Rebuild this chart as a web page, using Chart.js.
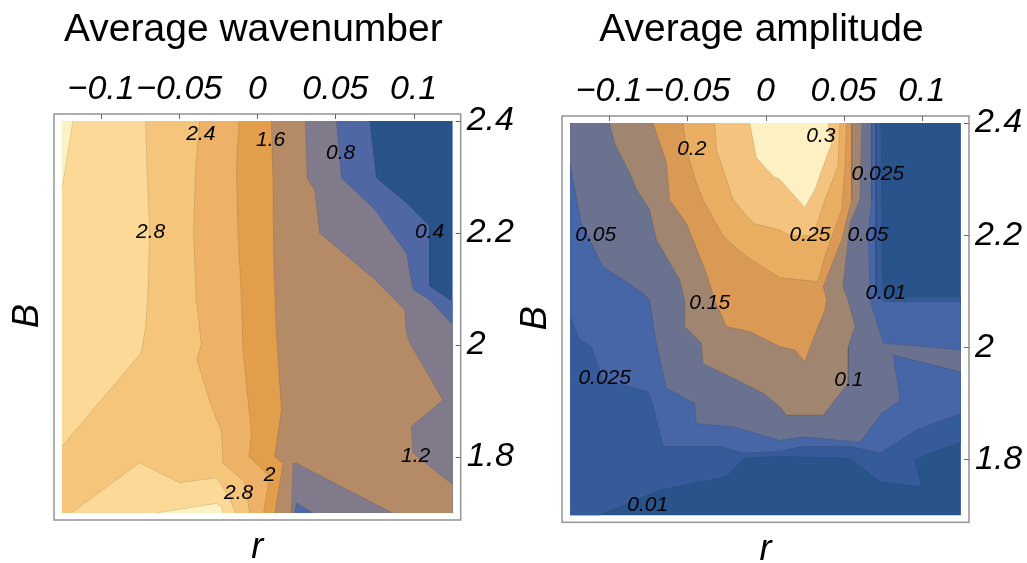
<!DOCTYPE html>
<html><head><meta charset="utf-8">
<script src="https://cdn.jsdelivr.net/npm/chart.js@4/dist/chart.umd.min.js"></script>
<style>
html,body{margin:0;padding:0;background:#fff;}
#wrap{position:relative;width:1027px;height:563px;overflow:hidden;background:#fff;}
canvas{position:absolute;}
</style></head><body>
<div id="wrap">
<canvas id="c1" width="515" height="563" style="left:0;top:0"></canvas>
<canvas id="c2" width="519" height="561" style="left:508px;top:2px"></canvas>
</div>
<script>
// ---------- shared axes ----------
const rTicks = [-0.1, -0.05, 0, 0.05, 0.1];
const bTicks = [1.8, 2, 2.2, 2.4];
const rRange = [-0.125, 0.125];
const bRange = [1.7, 2.4];

// ---------- Average wavenumber: contour levels, colours, superlevel regions [r, B] ----------
const wnLevels = [0.4, 0.8, 1.2, 1.6, 2.0, 2.4, 2.8, 3.2];
const wnColors = ['#27528A','#4F67A4','#807A8A','#B48B66','#E39E4B','#EDB267','#F5C57C','#FCD996','#FEF2C4'];
const wnAbove04 = [[-0.125,2.4],[0.0719,2.4],[0.0762,2.298],[0.0954,2.254],[0.1103,2.212],[0.1103,2.105],[0.125,2.078],[0.125,1.7],[-0.125,1.7]];
const wnAbove08 = [[-0.125,2.4],[0.0506,2.4],[0.0538,2.298],[0.0751,2.242],[0.0954,2.164],[0.0996,2.099],[0.1103,2.081],[0.125,2.036],[0.125,1.7],[0.0356,1.7],[0.0250,1.718],[0.0239,1.7],[-0.125,1.7]];
const wnAbove12 = [[-0.125,2.4],[0.0307,2.4],[0.0318,2.298],[0.0367,2.277],[0.0399,2.200],[0.0751,2.117],[0.0943,2.063],[0.0954,2.021],[0.0975,2.004],[0.1188,1.902],[0.0986,1.855],[0.0996,1.807],[0.125,1.751],[0.125,1.7],[0.0866,1.7],[0.0250,1.789],[0.0228,1.789],[0.0218,1.7],[-0.125,1.7]];
const wnAbove16 = [[-0.125,2.4],[0.0090,2.4],[0.0100,2.290],[0.0104,2.170],[0.0117,2.045],[0.0154,1.884],[0.0111,1.801],[0.0164,1.789],[0.0111,1.7],[-0.125,1.7]];
const wnAbove20 = [[-0.125,2.4],[-0.0118,2.4],[-0.0134,2.319],[-0.0124,2.200],[-0.0102,2.081],[-0.0092,1.992],[-0.0060,1.902],[-0.0038,1.843],[-0.0054,1.801],[0.0079,1.765],[0.0040,1.7],[-0.125,1.7]];
const wnAbove24 = [[-0.125,2.4],[-0.0369,2.4],[-0.0395,2.319],[-0.0408,2.200],[-0.0391,2.081],[-0.0359,2.001],[-0.0387,1.974],[-0.0294,1.890],[-0.0230,1.846],[-0.0220,1.789],[-0.0081,1.756],[-0.0049,1.7],[-0.125,1.7]];
const wnAbove28a = [[-0.125,2.4],[-0.0715,2.4],[-0.0707,2.319],[-0.0690,2.206],[-0.0700,2.100],[-0.0715,2.033],[-0.0743,1.986],[-0.125,1.819]];
const wnAbove28b = [[-0.1191,1.7],[-0.0754,1.790],[-0.0497,1.754],[-0.0262,1.763],[-0.0230,1.751],[-0.0165,1.718],[-0.0139,1.7]];
const wnAbove32a = [[-0.125,2.4],[-0.1181,2.4],[-0.125,2.280]];
const wnAbove32b = [[-0.0647,1.7],[-0.0262,1.717],[-0.0230,1.712],[-0.0220,1.7]];
const wnLabelText = ['2.4','1.6','0.8','2.8','0.4','2','1.2','2.8'];
const wnLabelR = [-0.0362, 0.0085, 0.0533, -0.0683, 0.1103, 0.0079, 0.1013, -0.0120];
const wnLabelB = [2.377, 2.365, 2.342, 2.201, 2.201, 1.767, 1.801, 1.735];

// ---------- Average amplitude ----------
const amLevels = [0.01, 0.025, 0.05, 0.1, 0.15, 0.2, 0.25, 0.3];
const amColors = ['#28548B','#365B9B','#4766A8','#6B7290','#A08570','#DA9A56','#EAAE63','#F4C47E','#FDF1C3'];
const amAbove001 = [[-0.125,2.4],[0.0738,2.4],[0.0751,2.102],[0.0783,2.090],[0.125,2.090],[0.125,1.831],[0.0956,1.799],[0.0999,1.751],[0.0732,1.760],[0.0540,1.802],[0.0092,1.805],[-0.0133,1.802],[-0.0250,1.769],[-0.0677,1.745],[-0.1061,1.7],[-0.125,1.7]];
const amAbove0025 = [[-0.125,2.4],[0.0706,2.4],[0.0706,2.093],[0.0764,2.081],[0.125,2.081],[0.125,1.882],[0.0967,1.852],[0.0732,1.811],[0.0540,1.823],[0.0241,1.823],[0.0092,1.814],[-0.0143,1.811],[-0.0293,1.823],[-0.0656,1.823],[-0.0730,1.906],[-0.0752,1.921],[-0.1040,1.942],[-0.1114,2.001],[-0.1189,2.013],[-0.125,2.055]];
const amAbove005 = [[-0.125,2.4],[0.0679,2.4],[0.0679,2.263],[0.0655,2.199],[0.0668,2.108],[0.0668,2.084],[0.0753,2.007],[0.125,1.995],[0.125,1.956],[0.0817,1.986],[0.0860,1.906],[0.0743,1.882],[0.0604,1.831],[0.0241,1.840],[0.0092,1.834],[-0.0207,1.858],[-0.0442,1.864],[-0.0453,1.900],[-0.0634,1.927],[-0.0698,2.007],[-0.0741,2.084],[-0.0794,2.099],[-0.1040,2.144],[-0.1178,2.221],[-0.125,2.326]];
const amAbove010 = [[-0.0997,2.4],[0.0615,2.4],[0.0604,2.263],[0.0540,2.221],[0.0495,2.108],[0.0527,2.084],[0.0572,2.037],[0.0529,2.001],[0.0529,1.936],[0.0369,1.879],[0.0134,1.879],[0.0092,1.894],[-0.0015,1.918],[-0.0207,1.945],[-0.0399,1.971],[-0.0410,2.007],[-0.0517,2.037],[-0.0517,2.084],[-0.0549,2.120],[-0.0698,2.192],[-0.0741,2.245],[-0.0824,2.281],[-0.0858,2.305],[-0.0965,2.364]];
const amAbove015 = [[-0.0720,2.4],[0.0551,2.4],[0.0551,2.263],[0.0487,2.192],[0.0369,2.108],[0.0391,2.084],[0.0380,2.067],[0.0294,2.007],[0.0252,1.974],[0.0188,1.995],[0.0092,2.001],[-0.0101,2.028],[-0.0250,2.037],[-0.0325,2.084],[-0.0378,2.132],[-0.0506,2.221],[-0.0613,2.263],[-0.0634,2.331]];
const amAbove020 = [[-0.0528,2.4],[0.0519,2.4],[0.0508,2.323],[0.0487,2.245],[0.0380,2.162],[0.0335,2.117],[0.0092,2.124],[-0.0122,2.162],[-0.0271,2.198],[-0.0399,2.263],[-0.0442,2.293],[-0.0506,2.352]];
const amAbove025 = [[-0.0325,2.4],[0.0476,2.4],[0.0463,2.323],[0.0380,2.263],[0.0303,2.199],[0.0156,2.199],[0.0092,2.209],[-0.0079,2.221],[-0.0207,2.263],[-0.0250,2.299],[-0.0314,2.352]];
const amAbove030 = [[-0.0101,2.4],[0.0399,2.4],[0.0423,2.364],[0.0369,2.323],[0.0316,2.281],[0.0252,2.249],[0.0092,2.299],[0.0049,2.305],[-0.0058,2.338]];
const amLabelText = ['0.2','0.3','0.025','0.05','0.25','0.05','0.15','0.01','0.1','0.025','0.01'];
const amLabelR = [-0.0472, 0.0354, 0.0719, -0.1086, 0.0284, 0.0655, -0.0357, 0.0770, 0.0533, -0.1029, -0.0754];
const amLabelB = [2.354, 2.377, 2.308, 2.199, 2.199, 2.199, 2.079, 2.097, 1.942, 1.945, 1.718];

// ---------- builders ----------
const FONT = '"Liberation Sans", Arial, Helvetica, sans-serif';
const LINE = 'rgba(40,30,20,0.13)';
const NONE = 'rgba(0,0,0,0)';

function fmtTick(v) { return v < 0 ? '\u2212' + String(Math.abs(v)) : String(v); }
function toPts(poly) { return poly.concat([poly[0]]).map(p => ({x: p[0], y: p[1]})); }
function near(a, b) { return Math.abs(a - b) < 1e-6; }
function onEdge(p, q) {
  return (near(p.x, rRange[0]) && near(q.x, rRange[0])) || (near(p.x, rRange[1]) && near(q.x, rRange[1])) ||
         (near(p.y, bRange[0]) && near(q.y, bRange[0])) || (near(p.y, bRange[1]) && near(q.y, bRange[1]));
}
function buildDatasets(regions, colors) {
  const frame = [[rRange[0], bRange[0]], [rRange[1], bRange[0]], [rRange[1], bRange[1]], [rRange[0], bRange[1]]];
  const list = [{poly: frame, color: colors[0], line: false}];
  regions.forEach((polys, k) => polys.forEach(p => list.push({poly: p, color: colors[k + 1], line: true})));
  const ds = [];
  list.forEach((it, i) => {
    ds.push({data: toPts(it.poly), fill: 'shape', backgroundColor: it.color, borderColor: NONE,
      borderWidth: 0, pointRadius: 0, pointHoverRadius: 0, tension: 0, order: 1000 - i});
  });
  list.forEach(it => {
    if (!it.line) return;
    const d = toPts(it.poly);
    ds.push({data: d, fill: false, borderColor: LINE, borderWidth: 1, pointRadius: 0, pointHoverRadius: 0, tension: 0, order: 0,
      segment: {borderColor: c => onEdge(d[c.p0DataIndex], d[c.p1DataIndex]) ? NONE : LINE}});
  });
  return ds;
}

const extras = {
  c1: {title: 'Average wavenumber', titleBase: 41, text: wnLabelText, r: wnLabelR, b: wnLabelB},
  c2: {title: 'Average amplitude', titleBase: 39, text: amLabelText, r: amLabelR, b: amLabelB}
};

const decor = {
  id: 'decor',
  afterDraw(chart) {
    const o = extras[chart.canvas.id];
    const {ctx, chartArea: a, scales: {x, y}} = chart;
    ctx.save();
    ctx.lineWidth = 1.6; ctx.strokeStyle = '#9a9a9a';
    ctx.strokeRect(a.left, a.top, a.right - a.left, a.bottom - a.top);
    ctx.lineWidth = 1; ctx.strokeStyle = '#666';
    ctx.beginPath();
    x.ticks.forEach(t => { const px = Math.round(x.getPixelForValue(t.value)) + 0.5; ctx.moveTo(px, a.top); ctx.lineTo(px, a.top + 5); });
    y.ticks.forEach(t => { const py = Math.round(y.getPixelForValue(t.value)) + 0.5; ctx.moveTo(a.right, py); ctx.lineTo(a.right - 5, py); });
    ctx.stroke();
    ctx.fillStyle = '#000';
    ctx.font = 'italic 21px ' + FONT; ctx.textAlign = 'center'; ctx.textBaseline = 'middle';
    o.text.forEach((t, i) => ctx.fillText(t, x.getPixelForValue(o.r[i]), y.getPixelForValue(o.b[i])));
    ctx.font = '39px ' + FONT; ctx.textBaseline = 'alphabetic';
    ctx.fillText(o.title, (a.left + a.right) / 2 - 4, o.titleBase);
    ctx.font = 'italic 36px ' + FONT;
    ctx.fillText('r', (a.left + a.right) / 2, a.bottom + 38);
    ctx.translate(37.5, (a.top + a.bottom) / 2 - 1);
    ctx.rotate(-Math.PI / 2);
    ctx.fillText('B', 0, 0);
    ctx.restore();
  }
};

function makeChart(id, regions, colors, W, rightEdge, bottomPad) {
  const tickFont = {family: FONT, size: 34, style: 'italic'};
  return new Chart(document.getElementById(id), {
    type: 'line',
    data: {datasets: buildDatasets(regions, colors)},
    options: {
      responsive: false, animation: false, events: [],
      layout: {padding: {left: 54, top: 0, right: 0, bottom: bottomPad}},
      plugins: {legend: {display: false}, tooltip: {enabled: false}, title: {display: false}},
      scales: {
        x: {type: 'linear', position: 'top', min: -0.1302, max: 0.1302,
          grid: {display: false, drawTicks: false}, border: {display: false},
          afterBuildTicks: s => { s.ticks = rTicks.map(v => ({value: v})); },
          afterFit: s => { s.height = 114; },
          ticks: {autoSkip: false, maxRotation: 0, minRotation: 0, padding: 4, color: '#000', font: tickFont, callback: v => fmtTick(v)}},
        y: {type: 'linear', position: 'right', min: 1.6875, max: 2.4125,
          grid: {display: false, drawTicks: false}, border: {display: false},
          afterBuildTicks: s => { s.ticks = bTicks.map(v => ({value: v})); },
          afterFit: s => { s.width = W - rightEdge; },
          ticks: {autoSkip: false, padding: 6, color: '#000', font: tickFont, callback: v => fmtTick(v)}}
      }
    },
    plugins: [decor]
  });
}

makeChart('c1', [[wnAbove04],[wnAbove08],[wnAbove12],[wnAbove16],[wnAbove20],[wnAbove24],[wnAbove28a, wnAbove28b],[wnAbove32a, wnAbove32b]], wnColors, 515, 460.7, 43);
makeChart('c2', [[amAbove001],[amAbove0025],[amAbove005],[amAbove010],[amAbove015],[amAbove020],[amAbove025],[amAbove030]], amColors, 519, 461, 40.7);
</script>
</body></html>
